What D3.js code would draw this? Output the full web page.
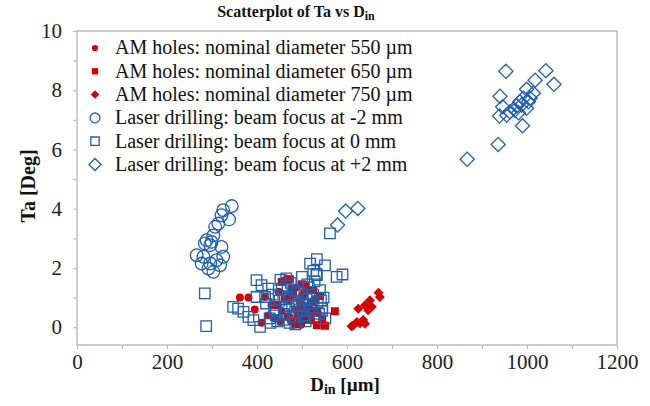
<!DOCTYPE html>
<html>
<head>
<meta charset="utf-8">
<script src="https://cdn.jsdelivr.net/npm/d3@7"></script>
<style>
body { margin: 0; background: #fff; }
svg text { font-family: "Liberation Serif", "Times New Roman", serif !important; }
</style>
</head>
<body>
<div id="main_div"></div>
<script>
// [D_in (um), Ta (deg)] per series
var am550 = [[362,1.0],[381,1.0],[410,0.15],[425,0.4],[432,0.75],[440,0.3],[448,1.2],[455,0.55],[459,1.56],[466,1.64],
    [470,0.9],[476,0.2],[480,1.1],[485,0.6],[488,1.35],[492,0.35],[495,0.85],[500,1.05],[505,0.45],[510,0.7],
    [515,1.25],[520,0.25],[528,0.95],[535,0.5],[395,0.6],[418,1.02],[452,0.2],[498,0.08],[472,0.35],[508,1.4]];
var am650 = [[455,1.53],[473,1.62],[462,0.95],[480,1.3],[490,0.45],[497,0.7],[505,1.15],[512,0.25],[520,0.85],[527,0.5],
    [533,0.07],[540,1.05],[551,0.05],[573,0.54],[468,0.35],[485,0.1],[500,1.45],[515,0.6],[530,0.9],[545,0.3],
    [445,0.75],[475,1.1],[510,0.4],[525,1.25],[495,0.2]];
var am750 = [[670,1.16],[673,1.02],[651,0.91],[655,0.69],[640,0.74],[625,0.62],[647,0.57],[636,0.24],[622,0.18],[629,0.13],
    [610,0.03],[613,0.05],[640,0.12]];
var ld_m2 = [[344,4.09],[325,3.95],[321,3.78],[338,3.64],[314,3.5],[307,3.39],[303,3.1],[288,2.94],[299,2.88],[296,2.77],
    [284,2.83],[321,2.71],[266,2.43],[281,2.38],[325,2.38],[310,2.26],[277,2.15],[296,2.15],[318,2.09],[303,1.87],[292,1.98]];
var ld_0 = [[284,1.14],[287,0.04],[562,3.17],[577,1.7],[590,1.78],[533,2.3],[518,2.15],[551,2.09],[533,1.76],
    [399,1.59],[410,1.42],[418,1.02],[399,1.02],[347,0.69],[358,0.63],[370,0.52],[381,0.35],[392,0.24],[407,0.01],
    [420,0.8],[428,0.3],[435,1.1],[440,0.55],[445,0.2],[450,0.9],[455,1.3],[460,0.45],[465,0.7],[470,1.0],
    [475,1.5],[480,0.35],[485,0.85],[490,1.2],[495,0.6],[500,1.7],[505,0.4],[510,0.95],[515,1.35],[520,0.65],
    [525,1.1],[530,0.3],[535,0.85],[540,1.25],[545,0.55],[430,0.15],[438,0.6],[448,1.05],[458,0.25],[468,1.4],
    [478,0.75],[488,0.5],[498,1.15],[508,0.2],[518,0.8],[528,1.55],[538,0.45],[548,1.0],[442,0.4],[452,1.6],
    [462,0.95],[472,0.15],[482,1.25],[492,0.7],[502,0.35],[512,1.45],[522,0.55],[532,1.8],[542,0.9],[552,0.3],
    [425,1.3],[465,1.65],[485,0.1],[505,0.75],[525,1.9],[545,0.65]];
var ld_p2 = [[579,3.45],[597,3.92],[624,4.01],
    [953,8.64],[1042,8.66],[1018,8.34],[1060,8.2],[999,8.03],[940,7.8],[1014,7.9],[1007,7.73],[992,7.73],[984,7.61],
    [1003,7.61],[946,7.44],[977,7.47],[988,7.5],[973,7.33],[999,7.39],[962,7.27],[955,7.16],[939,7.13],[981,7.24],
    [990,6.8],[936,6.17],[867,5.67]];

var legendLabels = ["AM holes: nominal diameter 550 \u00b5m", "AM holes: nominal diameter 650 \u00b5m",
    "AM holes: nominal diameter 750 \u00b5m", "Laser drilling: beam focus at -2 mm",
    "Laser drilling: beam focus at 0 mm", "Laser drilling: beam focus at +2 mm"];
var xTicks = [0, 200, 400, 600, 800, 1000, 1200];
var yTicks = [0, 2, 4, 6, 8, 10];

var red = "#d40000", blue = "#1f5fb0";
// rot: square turned 45 deg for the diamond markers
var series = [
    {data: am550, shape: d3.symbolCircle, size: 50, rot: 0, fill: true, color: red, lsize: 30},
    {data: am650, shape: d3.symbolSquare, size: 64, rot: 0, fill: true, color: red, lsize: 40},
    {data: am750, shape: d3.symbolSquare, size: 50, rot: 45, fill: true, color: red, lsize: 36},
    {data: ld_m2, shape: d3.symbolCircle, size: 125, rot: 0, fill: false, color: blue, lsize: 75},
    {data: ld_0, shape: d3.symbolSquare, size: 110, rot: 0, fill: false, color: blue, lsize: 70},
    {data: ld_p2, shape: d3.symbolSquare, size: 100, rot: 45, fill: false, color: blue, lsize: 72}
];

var W = 650, H = 406;
var x_scale = d3.scaleLinear().domain([0, 1200]).range([77, 617]);
var y_scale = d3.scaleLinear().domain([-0.6, 10]).range([345, 31]);

var svg = d3.select("#main_div").append("svg").attr("width", W).attr("height", H);

// frame
svg.append("rect").attr("x", 77).attr("y", 31).attr("width", 540).attr("height", 314)
    .attr("fill", "none").attr("stroke", "#bdbdbd").attr("stroke-width", 1.5);

// axes
var g_x = svg.append("g").attr("transform", "translate(0,345)")
    .call(d3.axisBottom(x_scale).tickValues(d3.range(0, 1201, 100)).tickSize(4).tickFormat(function(d) {
        return xTicks.indexOf(d) >= 0 ? d : "";
    }));
var g_y = svg.append("g").attr("transform", "translate(77,0)")
    .call(d3.axisLeft(y_scale).tickValues(d3.range(0, 11, 1)).tickSize(4).tickPadding(11).tickFormat(function(d) {
        return yTicks.indexOf(d) >= 0 ? d : "";
    }));
[g_x, g_y].forEach(function(g) {
    g.select(".domain").remove();
    g.selectAll("line").attr("stroke", "#bdbdbd").attr("stroke-width", 1.2);
    g.selectAll("text").attr("font-size", 21).attr("fill", "#222");
});
g_x.selectAll("text").attr("dy", "0.8em");

// points
series.forEach(function(s) {
    svg.append("g").selectAll("path").data(s.data).enter().append("path")
        .attr("transform", function(d) {
            return "translate(" + x_scale(d[0]) + "," + y_scale(d[1]) + ") rotate(" + s.rot + ")";
        })
        .attr("d", d3.symbol().type(s.shape).size(s.size))
        .attr("fill", s.fill ? s.color : "none")
        .attr("stroke", s.fill ? "none" : s.color)
        .attr("stroke-width", 1.3);
});

// legend
var leg = svg.append("g");
legendLabels.forEach(function(lab, i) {
    var s = series[i];
    var cy = 48 + i * 23.3;
    leg.append("path").attr("transform", "translate(95," + cy + ") rotate(" + s.rot + ")")
        .attr("d", d3.symbol().type(s.shape).size(s.lsize))
        .attr("fill", s.fill ? s.color : "none")
        .attr("stroke", s.fill ? "none" : s.color)
        .attr("stroke-width", 1.3);
    leg.append("text").attr("x", 115).attr("y", cy).attr("dy", "0.32em")
        .attr("font-size", 20).attr("fill", "#111").text(lab);
});

// title
var title = svg.append("text").attr("x", 296).attr("y", 17).attr("text-anchor", "middle")
    .attr("font-size", 16).attr("font-weight", "bold").attr("fill", "#111");
title.append("tspan").text("Scatterplot of Ta vs D");
title.append("tspan").attr("dy", 3).attr("font-size", 12).text("in");

// axis titles
var xl = svg.append("text").attr("x", 345).attr("y", 391).attr("text-anchor", "middle")
    .attr("font-size", 19).attr("font-weight", "bold").attr("fill", "#111");
xl.append("tspan").text("D");
xl.append("tspan").attr("dy", 3).attr("font-size", 14).text("in");
xl.append("tspan").attr("dy", -3).text(" [\u00b5m]");

svg.append("text").attr("transform", "translate(35,186) rotate(-90)").attr("text-anchor", "middle")
    .attr("font-size", 20).attr("font-weight", "bold").attr("fill", "#111").text("Ta [Deg]");
</script>
</body>
</html>
